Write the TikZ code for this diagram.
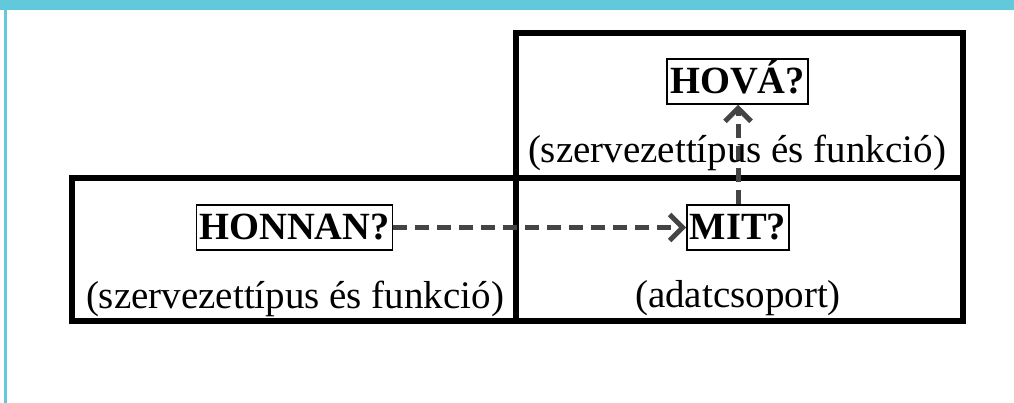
\documentclass[tikz,border=0pt]{standalone}
\usepackage{fontspec}
\setmainfont{Liberation Serif}
\usetikzlibrary{arrows.meta}
\definecolor{cyanbar}{HTML}{62C9DD}
\definecolor{arrowgray}{HTML}{444444}
\begin{document}
\begin{tikzpicture}[x=1pt,y=-1pt,
  frame/.style={draw=black,line width=5.5pt},
  qbox/.style={draw=black,line width=1.5pt,font=\fontsize{38.5}{40}\selectfont\bfseries,
    inner xsep=3pt,inner ysep=10pt,text height=25pt,text depth=0pt},
  sub/.style={font=\fontsize{39}{40}\selectfont,inner sep=0pt,anchor=base},
  flow/.style={draw=arrowgray,line width=5pt,dash pattern=on 14pt off 8pt,
    -{Straight Barb[length=13pt,width=26pt,line width=5pt]}}]
\useasboundingbox (0,0) rectangle (1014,403);
\fill[cyanbar] (0,0) rectangle (1014,10);
\fill[cyanbar] (3.5,10) rectangle (6.5,403);
% frames
\draw[frame] (516,33) rectangle (963,178);
\draw[frame] (72,178) rectangle (963,321);
\draw[frame] (516,178) -- (516,321);
% question boxes
\node[qbox] (honnan) at (294.5,227.5) {HONNAN?};
\node[qbox] (mit) at (738,227.5) {MIT?};
\node[qbox] (hova) at (737.5,81.5) {HOVÁ?};
% arrows
\draw[flow] (honnan.east) -- (mit.west);
\draw[flow] (mit.north) -- (mit.north |- hova.south);
% subtitles
\node[sub] (s1) at (295,308) {(szervezettípus és funkció)};
\node[sub] (s2) at (737,163) {(szervezettípus és funkció)};
\node[sub] (s3) at (738,307) {(adatcsoport)};
\end{tikzpicture}
\end{document}
